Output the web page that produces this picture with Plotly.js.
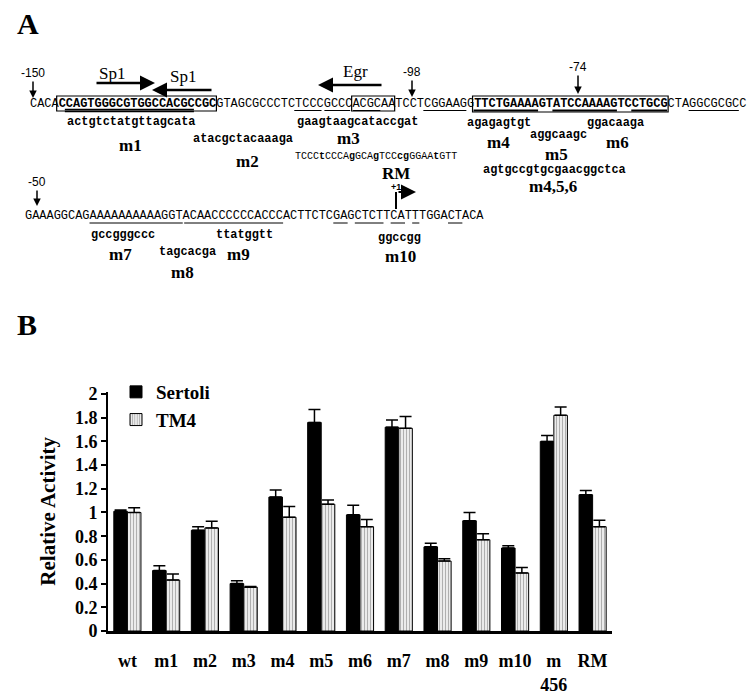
<!DOCTYPE html>
<html><head><meta charset="utf-8">
<script src="https://cdn.plot.ly/plotly-3.0.1.min.js"></script>
<style>html,body{margin:0;padding:0;background:#fff}#chart{width:747px;height:695px}</style>
</head><body><div id="chart"></div>
<script>
// ---- Panel B data ----
var categories = ['wt','m1','m2','m3','m4','m5','m6','m7','m8','m9','m10','m<br>456','RM'];
var sertoli    = [1.01,0.51,0.85,0.40,1.13,1.76,0.98,1.72,0.71,0.93,0.70,1.60,1.15];
var sertoliErr = [0.01,0.04,0.03,0.025,0.06,0.11,0.08,0.06,0.03,0.07,0.02,0.05,0.035];
var tm4        = [1.00,0.43,0.87,0.37,0.96,1.07,0.88,1.71,0.59,0.77,0.49,1.82,0.88];
var tm4Err     = [0.04,0.05,0.055,0.005,0.09,0.035,0.06,0.10,0.02,0.05,0.045,0.07,0.055];
var seriesNames = ['Sertoli','TM4'];

// ---- Panel A text ----
var seq1 = 'CACA<b>CCAGTGGGCGTGGCCACGCCGC</b>GTAGCGCCCTCTCCCGCCCACGCAATCCTCGGAAGG<b>TTCTGAAAAGTATCCAAAAGTCCTGCG</b>CTAGGCGCGCC';
var seq1Len = 100;
var seq2 = 'GAAAGGCAGAAAAAAAAAAGGTACAACCCCCCACCCACTTCTCGAGCTCTTCATTTGGACTACA';
var rmSeq = 'TCCC<b>t</b>CCCA<b>g</b>GCA<b>g</b>TCC<b>cg</b>GGAA<b>t</b>GTT';
var mutSeqs = [
  ['actgtctatgttagcata',131,122],['atacgctacaaaga',243,139],['gaagtaagcataccgat',357,122],
  ['agagagtgt',499,123],['aggcaagc',558,135],['ggacaaga',615,123],['agtgccgtgcgaacggctca',554,170],
  ['gccgggccc',123,235],['tagcacga',187,252],['ttatggtt',244,235],['ggccgg',399,238]
];
var mutNames = [
  ['m1',130,145],['m2',247,161],['m3',348,139],['RM',396,174],['m4',498,142],['m5',556,154],
  ['m6',617,142],['m4,5,6',553,187],['m7',120,254],['m8',182,272],['m9',238,255],['m10',400,256]
];
var positions = [['-150',33,98,-25],['-98',412,97,-25],['-74',578,94,-27],['-50',37,206,-24]];

var W = 747, H = 695;
function px(x){return x/W;}
function py(y){return 1 - y/H;}
var SERIF='Liberation Serif, Times New Roman, serif', MONO='Liberation Mono, Courier New, monospace', SANS='Liberation Sans, Arial, sans-serif';

var traces = [
  {type:'bar', name:seriesNames[0], x:categories, y:sertoli,
   marker:{color:'#000000', line:{color:'#000', width:1}},
   error_y:{type:'data', symmetric:false, array:sertoliErr, arrayminus:sertoli.map(function(){return 0;}), color:'#000', thickness:1.5, width:6}},
  {type:'bar', name:seriesNames[1], x:categories, y:tm4,
   marker:{color:'#e6e6e6', line:{color:'#000', width:1},
           pattern:{shape:'|', fgcolor:'#a3a3a3', bgcolor:'#ebebeb', size:3, solidity:0.28}},
   error_y:{type:'data', symmetric:false, array:tm4Err, arrayminus:tm4.map(function(){return 0;}), color:'#000', thickness:1.5, width:6}}
];

var ann = [], shapes = [];
function text(t, x, y, font, extra){
  var a = {text:t, x:px(x), y:py(y), xref:'paper', yref:'paper', showarrow:false,
           xanchor:'center', yanchor:'middle', font:font, borderpad:0};
  if (extra) for (var k in extra) a[k]=extra[k];
  ann.push(a);
}
function arrow(hx, hy, dx, dy, w, size){
  ann.push({text:'', x:px(hx), y:py(hy), xref:'paper', yref:'paper', showarrow:true,
            ax:dx, ay:dy, arrowhead:2, arrowsize:size, arrowwidth:w, arrowcolor:'#000'});
}
function line(x0,y0,x1,y1,w){
  shapes.push({type:'line', xref:'paper', yref:'paper', x0:px(x0), y0:py(y0), x1:px(x1), y1:py(y1),
               line:{color:'#000', width:w}});
}
function rect(x0,y0,x1,y1){
  shapes.push({type:'rect', xref:'paper', yref:'paper', x0:px(x0), y0:py(y0), x1:px(x1), y1:py(y1),
               line:{color:'#000', width:1.2}});
}

// panel letters
text('<b>A</b>', 28, 24, {family:SERIF, size:30, color:'#000'});
text('<b>B</b>', 27, 324, {family:SERIF, size:30, color:'#000'});

// sequence line 1
var cw = 7.17, x1 = 29, y1 = 104;
function cx1(i){return x1 + i*cw;}
text(seq1, x1 + seq1Len*cw/2, y1, {family:MONO, size:11.95, color:'#000'});
rect(cx1(4)-1, 96, cx1(26)+1, 111);
rect(cx1(45), 96, cx1(51), 111);
rect(cx1(62)-1, 96, cx1(89)+1, 112);
line(cx1(5), 109.5, cx1(23), 109.5, 1.3);
line(cx1(5), 111.5, cx1(23), 111.5, 1.3);
[[37,40.8],[41.2,44.8],[45.2,49],[55,61],[92,99]].forEach(function(r){line(cx1(r[0]),110.5,cx1(r[1]),110.5,1);});
[[62,71],[73,82],[84,89]].forEach(function(r){line(cx1(r[0]),110.5,cx1(r[1]),110.5,2);});

// sequence line 2
var x2 = 25, y2 = 216;
function cx2(i){return x2 + i*cw;}
text(seq2, x2 + seq2.length*cw/2, y2, {family:MONO, size:11.95, color:'#000'});
[[9,22],[22.2,36],[43,45],[46,50],[51,53],[54,55],[59,61]].forEach(function(r){line(cx2(r[0]),223,cx2(r[1]),223,1);});

// position arrows
positions.forEach(function(p){
  ann.push({text:p[0], x:px(p[1]), y:py(p[2]), xref:'paper', yref:'paper', showarrow:true,
            ax:0, ay:p[3], arrowhead:2, arrowsize:1, arrowwidth:1.5, arrowcolor:'#000',
            font:{family:SANS, size:12, color:'#000'}});
});

// factor binding arrows
text('Sp1', 112, 74, {family:SERIF, size:17, color:'#000'});
text('Sp1', 183, 76, {family:SERIF, size:17, color:'#000'});
text('Egr', 355, 72, {family:SERIF, size:17, color:'#000'});
arrow(155, 83, -60, 0, 2.5, 1.2);
arrow(152, 90, 61, 0, 2.5, 1.2);
arrow(318, 85, 65, 0, 2.5, 1.2);

// +1 start site
line(396, 192, 396, 209, 2);
arrow(416, 192, -19, 0, 2, 1.5);
text('<b>+1</b>', 396, 187, {family:SANS, size:9, color:'#000'});

// mutation sequences and names
mutSeqs.forEach(function(m){ text('<b>'+m[0]+'</b>', m[1], m[2], {family:MONO, size:11.9, color:'#000'}); });
text(rmSeq, 376, 157, {family:MONO, size:10, color:'#000'});
mutNames.forEach(function(m){ text('<b>'+m[0]+'</b>', m[1], m[2], {family:SERIF, size:17, color:'#000'}); });

var layout = {
  width:W, height:H, margin:{l:0,r:0,t:0,b:0}, paper_bgcolor:'#fff', plot_bgcolor:'#fff',
  showlegend:true, barmode:'group', bargap:0.3, bargroupgap:0,
  font:{family:SERIF, color:'#000'},
  legend:{x:px(116), y:py(373), xanchor:'left', yanchor:'top', bgcolor:'rgba(0,0,0,0)',
          font:{family:SERIF, size:19, weight:'bold', color:'#000'}, tracegroupgap:0, itemwidth:30},
  xaxis:{domain:[px(108), px(612)], range:[-0.5,12.5], type:'category', showgrid:false, zeroline:false,
         showline:true, linecolor:'#000', linewidth:2.5, ticks:'outside', ticklen:12, tickcolor:'rgba(0,0,0,0)',
         tickfont:{family:SERIF, size:18, weight:'bold', color:'#000'}, fixedrange:true},
  yaxis:{domain:[py(631), py(391.6)], range:[0,2.02], dtick:0.2, tick0:0, showgrid:false, zeroline:false,
         showline:true, linecolor:'#000', linewidth:2, ticks:'outside', ticklen:5, tickwidth:2, tickcolor:'#000',
         tickfont:{family:SERIF, size:18, weight:'bold', color:'#000'},
         title:{text:'Relative Activity', font:{family:SERIF, size:21, weight:'bold', color:'#000'}}, fixedrange:true},
  annotations:ann, shapes:shapes
};
Plotly.newPlot('chart', traces, layout, {displayModeBar:false, staticPlot:true});
</script></body></html>
